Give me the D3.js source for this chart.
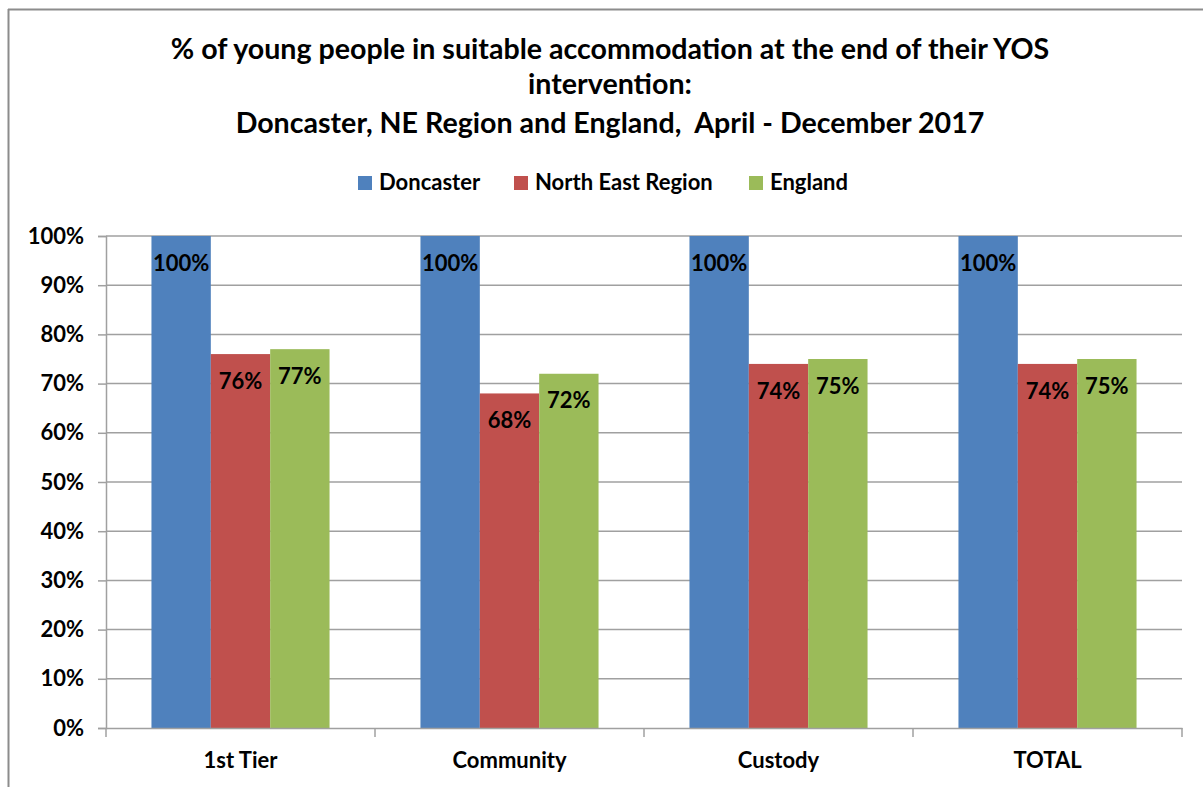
<!DOCTYPE html>
<html>
<head>
<meta charset="UTF-8">
<script src="https://d3js.org/d3.v7.min.js"></script>
<style>
  body { margin: 0; background: #fff; }
  text { font-family: Lato, "Open Sans", sans-serif; font-weight: bold; fill: #000; }
</style>
</head>
<body>
<svg id="chart" width="1203" height="787"></svg>
<script>
// data
var categories = ["1st Tier", "Community", "Custody", "TOTAL"];
var seriesNames = ["Doncaster", "North East Region", "England"];
var doncaster = [100, 100, 100, 100];
var northEast = [76, 68, 74, 74];
var england = [77, 72, 75, 75];
var yTicks = [0, 10, 20, 30, 40, 50, 60, 70, 80, 90, 100];
var titleLines = [
  "% of young people in suitable accommodation at the end of their YOS",
  "intervention:",
  "Doncaster, NE Region and England,  April - December 2017"
];
var colors = ["#4F81BD", "#C0504D", "#9BBB59"];

var values = [doncaster, northEast, england];
var rows = categories.map(function(c, i) {
  return { cat: c, vals: values.map(function(v, s) { return { s: s, v: v[i] }; }) };
});

var svg = d3.select("#chart");

// outer frame (top and left edges visible)
svg.append("line").attr("x1", 8).attr("x2", 1203).attr("y1", 9.5).attr("y2", 9.5)
  .attr("stroke", "#8c8c8c").attr("stroke-width", 2);
svg.append("line").attr("x1", 8.5).attr("x2", 8.5).attr("y1", 9).attr("y2", 787)
  .attr("stroke", "#8c8c8c").attr("stroke-width", 2);

// title
var titleY = [52, 87, 126];
svg.selectAll(".title").data(titleLines).enter().append("text")
  .attr("class", "title")
  .attr("x", 610).attr("y", function(d, i) { return titleY[i]; })
  .attr("text-anchor", "middle").attr("dominant-baseline", "middle")
  .attr("font-size", "28.6px")
  .style("white-space", "pre")
  .text(function(d) { return d; });

// plot area
var plotL = 106, plotR = 1182, plotT = 236, plotB = 728;

var x0 = d3.scaleBand().domain(categories).range([plotL, plotR]).paddingInner(0).paddingOuter(0);
var x1 = d3.scaleBand().domain(d3.range(seriesNames.length))
  .range([x0.bandwidth() * 0.169, x0.bandwidth() * 0.831]);
var y = d3.scaleLinear().domain([0, 100]).range([plotB, plotT]);

// y axis
var yAxis = svg.append("g").attr("transform", "translate(" + plotL + ",0)")
  .call(d3.axisLeft(y).tickValues(yTicks).tickSize(8).tickPadding(14)
    .tickFormat(function(d) { return d + "%"; }));
yAxis.select(".domain").attr("stroke", "#a0a0a0").attr("stroke-width", 1.5);
yAxis.selectAll(".tick line").attr("stroke", "#a0a0a0").attr("stroke-width", 1.5);
yAxis.selectAll(".tick text").attr("font-size", "22px").attr("fill", "#000")
  .style("font-family", "Lato, sans-serif").style("font-weight", "bold");

// gridlines
svg.append("g").selectAll("line").data(yTicks.filter(function(d) { return d > 0; })).enter()
  .append("line")
  .attr("x1", plotL).attr("x2", plotR)
  .attr("y1", function(d) { return y(d); }).attr("y2", function(d) { return y(d); })
  .attr("stroke", "#a0a0a0").attr("stroke-width", 1.5);

// bars
var groups = svg.append("g").selectAll("g").data(rows).enter().append("g")
  .attr("transform", function(d) { return "translate(" + x0(d.cat) + ",0)"; });

groups.selectAll("rect").data(function(d) { return d.vals; }).enter().append("rect")
  .attr("x", function(d) { return x1(d.s); })
  .attr("width", x1.bandwidth())
  .attr("y", function(d) { return y(d.v); })
  .attr("height", function(d) { return plotB - y(d.v); })
  .attr("fill", function(d) { return colors[d.s]; });

groups.selectAll(".lbl").data(function(d) { return d.vals; }).enter().append("text")
  .attr("class", "lbl")
  .attr("x", function(d) { return x1(d.s) + x1.bandwidth() / 2; })
  .attr("y", function(d) { return y(d.v) + 29; })
  .attr("text-anchor", "middle").attr("dominant-baseline", "middle")
  .attr("font-size", "22px")
  .text(function(d) { return d.v + "%"; });

// x axis
var xAxis = svg.append("g").attr("transform", "translate(0," + plotB + ")")
  .call(d3.axisBottom(x0).tickSize(0).tickPadding(24));
xAxis.select(".domain").attr("stroke", "#a0a0a0").attr("stroke-width", 1.5);
xAxis.selectAll(".tick text").attr("font-size", "22px").attr("fill", "#000")
  .style("font-family", "Lato, sans-serif").style("font-weight", "bold");
svg.append("g").selectAll("line").data(categories.concat(["end"])).enter().append("line")
  .attr("x1", function(d, i) { return i < categories.length ? x0(d) : plotR; })
  .attr("x2", function(d, i) { return i < categories.length ? x0(d) : plotR; })
  .attr("y1", plotB).attr("y2", plotB + 9)
  .attr("stroke", "#a0a0a0").attr("stroke-width", 1.5);

// legend
var legendX = [358, 514, 749];
var leg = svg.append("g").selectAll("g").data(seriesNames).enter().append("g")
  .attr("transform", function(d, i) { return "translate(" + legendX[i] + ",183)"; });
leg.append("rect").attr("x", 0).attr("y", -7).attr("width", 14).attr("height", 14)
  .attr("fill", function(d, i) { return colors[i]; });
leg.append("text").attr("x", 21).attr("y", 1).attr("dominant-baseline", "middle")
  .attr("font-size", "22px").text(function(d) { return d; });
</script>
</body>
</html>
